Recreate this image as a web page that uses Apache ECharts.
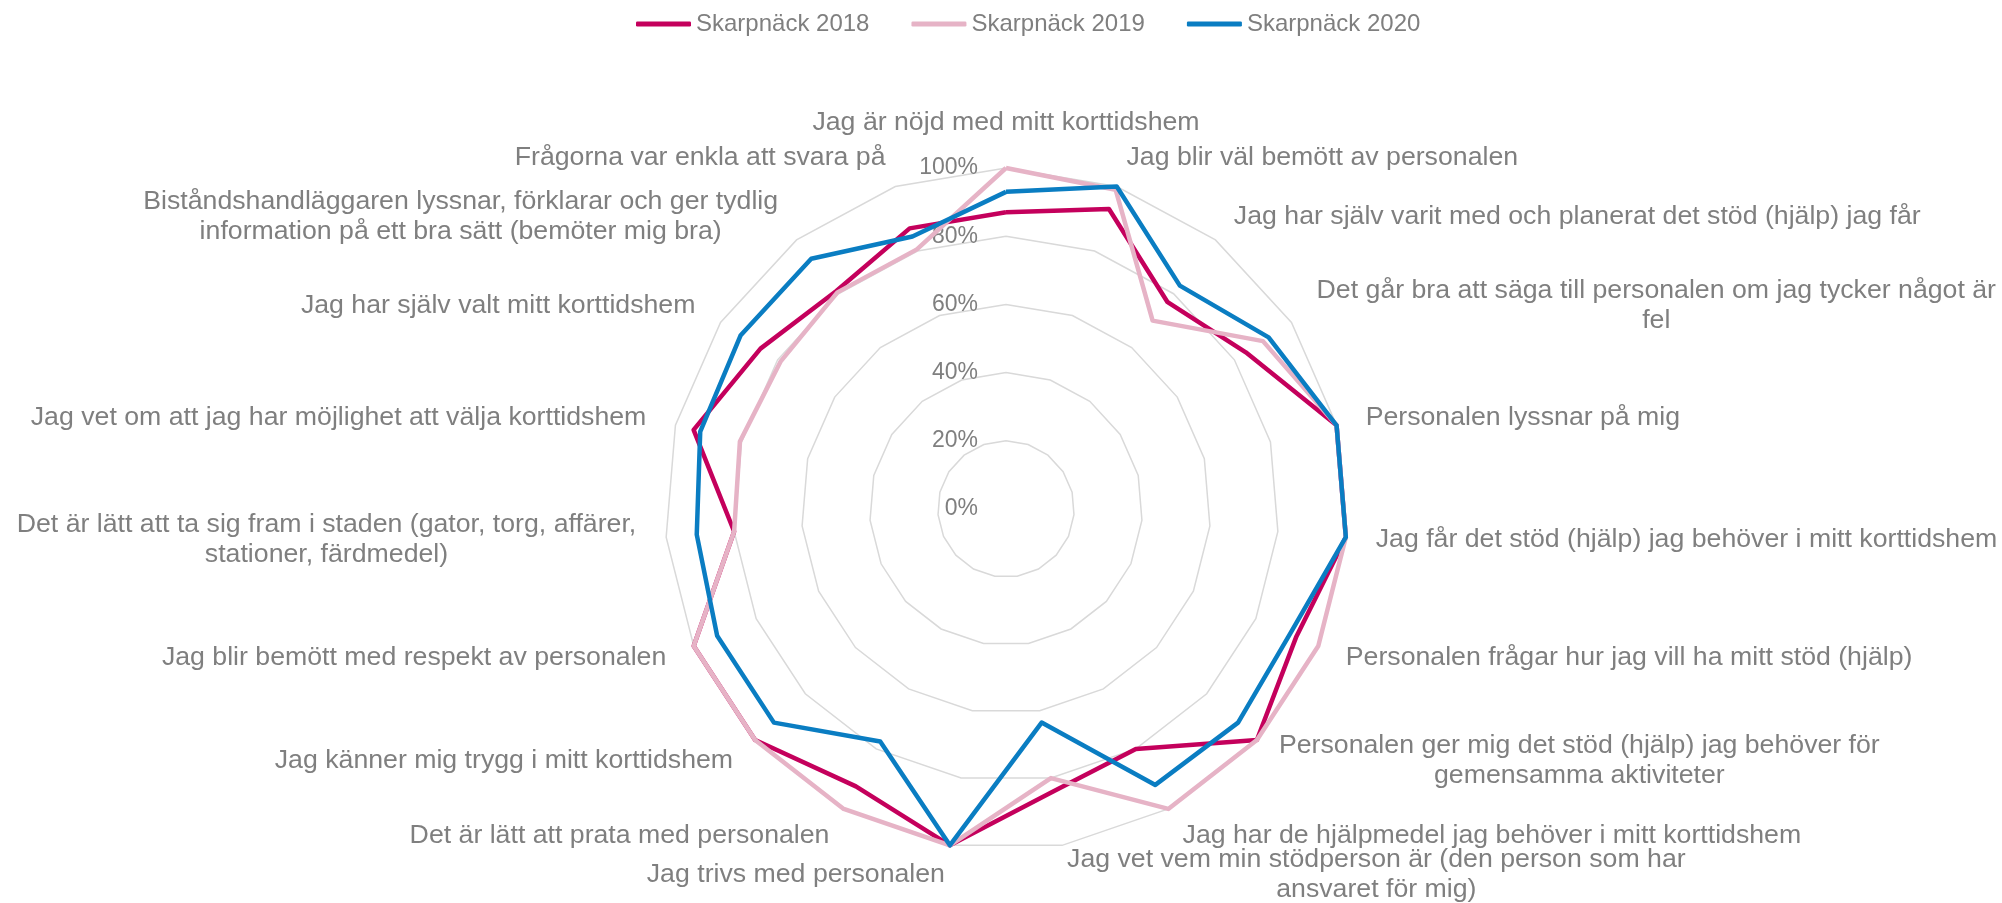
<!DOCTYPE html>
<html>
<head>
<meta charset="utf-8">
<title>Skarpnäck korttidshem</title>
<script src="https://cdn.jsdelivr.net/npm/echarts@6/dist/echarts.min.js"></script>
<style>
  html, body { margin: 0; padding: 0; background: #fff; }
  #chart { width: 2002px; height: 903px; }
</style>
</head>
<body>
<div id="chart"></div>
<script>
// frågor, medurs från toppen
const questions = [
  'Jag är nöjd med mitt korttidshem',
  'Jag blir väl bemött av personalen',
  'Jag har själv varit med och planerat det stöd (hjälp) jag får',
  'Det går bra att säga till personalen om jag tycker något är\nfel',
  'Personalen lyssnar på mig',
  'Jag får det stöd (hjälp) jag behöver i mitt korttidshem',
  'Personalen frågar hur jag vill ha mitt stöd (hjälp)',
  'Personalen ger mig det stöd (hjälp) jag behöver för\ngemensamma aktiviteter',
  'Jag har de hjälpmedel jag behöver i mitt korttidshem',
  'Jag vet vem min stödperson är (den person som har\nansvaret för mig)',
  'Jag trivs med personalen',
  'Det är lätt att prata med personalen',
  'Jag känner mig trygg i mitt korttidshem',
  'Jag blir bemött med respekt av personalen',
  'Det är lätt att ta sig fram i staden (gator, torg, affärer,\nstationer, färdmedel)',
  'Jag vet om att jag har möjlighet att välja korttidshem',
  'Jag har själv valt mitt korttidshem',
  'Biståndshandläggaren lyssnar, förklarar och ger tydlig\ninformation på ett bra sätt (bemöter mig bra)',
  'Frågorna var enkla att svara på'
];

const skarpnack2018 = [87, 93, 77, 84, 100, 100, 93, 100, 80, 84, 100, 92.5, 100, 100, 80, 94.5, 86, 81, 87];
const skarpnack2019 = [100, 99, 70, 90, 100, 100, 100, 100, 100, 80, 100, 100, 100, 100, 80, 80.5, 79, 80.5, 80.5];
const skarpnack2020 = [93, 100, 83, 92, 100, 100, 91, 92.5, 92, 63.5, 100, 77.5, 92.5, 92.5, 91, 92.5, 93, 93, 84.5];

const seriesNames = ['Skarpnäck 2018', 'Skarpnäck 2019', 'Skarpnäck 2020'];
const tickValues = [0, 20, 40, 60, 80, 100];

const colors = ['#c4005c', '#e6b3c6', '#0a7dc2'];
const textColor = '#7f7f7f';
const fontFamily = '"Liberation Sans", Arial, sans-serif';

// echarts radar går moturs, så vänd ordningen för att få medurs
const order = [0];
for (let i = questions.length - 1; i > 0; i--) order.push(i);
const pick = arr => order.map(i => arr[i]);

const indicators = order.map((i, k) => {
  const ind = { name: questions[i], min: tickValues[0], max: tickValues[tickValues.length - 1] };
  if (k === 0) ind.axisLabel = { show: true };
  return ind;
});

const chart = echarts.init(document.getElementById('chart'));

chart.setOption({
  animation: false,
  color: colors,
  textStyle: { fontFamily: fontFamily },
  legend: {
    top: 7,
    left: 631,
    icon: 'roundRect',
    itemWidth: 55,
    itemHeight: 5,
    itemGap: 42,
    textStyle: { color: textColor, fontSize: 24, fontFamily: fontFamily },
    data: seriesNames
  },
  radar: {
    center: [1006, 509],
    radius: 341,
    startAngle: 90,
    shape: 'polygon',
    splitNumber: tickValues.length - 1,
    nameGap: 30,
    axisName: {
      color: textColor,
      fontSize: 26.7,
      fontFamily: fontFamily,
      lineHeight: 30,
      formatter: function (name) {
        if (name.indexOf('\n') < 0) return name;
        return name.split('\n').map(s => '{c|' + s + '}').join('\n');
      },
      rich: { c: { align: 'center', color: textColor, fontSize: 26.7, fontFamily: fontFamily, lineHeight: 30 } }
    },
    axisLine: { show: false },
    axisTick: { show: false },
    axisLabel: {
      show: false,
      color: textColor,
      fontSize: 23,
      fontFamily: fontFamily,
      margin: 28,
      formatter: '{value}%'
    },
    splitLine: { lineStyle: { color: '#d9d9d9', width: 1.5 } },
    splitArea: { show: false },
    indicator: indicators
  },
  series: [{
    type: 'radar',
    symbol: 'none',
    data: [
      { name: seriesNames[0], value: pick(skarpnack2018), lineStyle: { color: colors[0], width: 4.5 }, itemStyle: { color: colors[0] } },
      { name: seriesNames[1], value: pick(skarpnack2019), lineStyle: { color: colors[1], width: 4.5 }, itemStyle: { color: colors[1] } },
      { name: seriesNames[2], value: pick(skarpnack2020), lineStyle: { color: colors[2], width: 4.5 }, itemStyle: { color: colors[2] } }
    ]
  }]
});
</script>
</body>
</html>
